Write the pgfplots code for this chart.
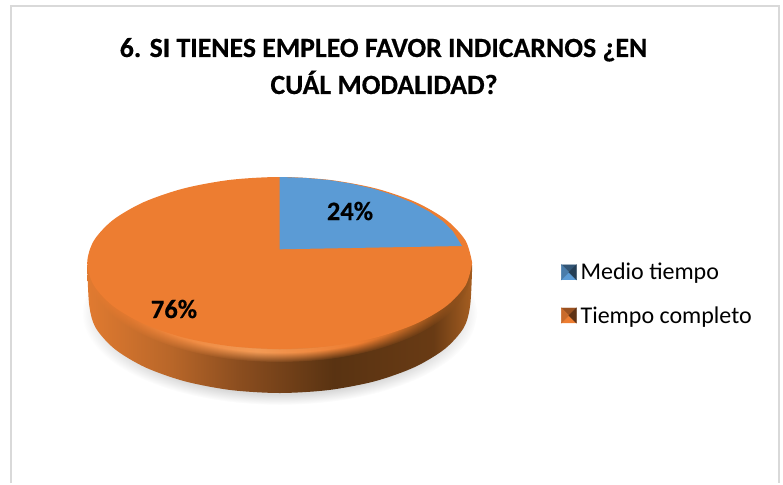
\documentclass[border=0pt]{standalone}
\usepackage{pgfplots}
\pgfplotsset{compat=1.18}
\usepackage{fontspec}
\setmainfont[BoldFeatures={FakeBold=0.4}]{Carlito}
\usetikzlibrary{fadings}
\definecolor{mblue}{HTML}{5B9BD5}
\definecolor{morange}{HTML}{ED7D31}
\definecolor{frameg}{HTML}{D9D9D9}
\definecolor{sa}{rgb}{0.88,0.48,0.19}
\definecolor{sb}{rgb}{0.72,0.40,0.16}
\definecolor{sc}{rgb}{0.54,0.30,0.12}
\definecolor{sd}{rgb}{0.35,0.20,0.07}
\definecolor{se}{rgb}{0.41,0.23,0.08}
\definecolor{sf}{rgb}{0.65,0.37,0.13}
\definecolor{rb}{HTML}{F29A55}
\definecolor{rc}{HTML}{B06020}
\definecolor{rd}{HTML}{7A4418}
\definecolor{shg}{rgb}{0.85,0.85,0.85}
\pgfdeclarehorizontalshading{sideorange}{100bp}{
 color(0bp)=(sa);
 color(25bp)=(sa);
 color(36bp)=(sb);
 color(45bp)=(sc);
 color(57bp)=(sd);
 color(70bp)=(se);
 color(75bp)=(sf);
 color(100bp)=(sf)}
\pgfdeclarehorizontalshading{ringorange}{100bp}{
 color(0bp)=(morange);
 color(30bp)=(morange);
 color(47bp)=(rb);
 color(60bp)=(morange);
 color(70bp)=(rc);
 color(75bp)=(rd);
 color(100bp)=(rd)}
\pgfdeclareradialshading{softshadow}{\pgfpointorigin}{
 color(0bp)=(shg);
 color(22bp)=(shg);
 color(25bp)=(white);
 color(50bp)=(white)}
\pgfdeclareradialshading{ringmask}{\pgfpointorigin}{
 color(0bp)=(black);
 color(19bp)=(black);
 color(21.5bp)=(white);
 color(22.3bp)=(white);
 color(25bp)=(black);
 color(50bp)=(black)}
\pgfdeclarefading{ringfade}{\pgfuseshading{ringmask}}
\begin{document}
\begin{tikzpicture}
\begin{axis}[
  scale only axis, width=783pt, height=483pt,
  xmin=0, xmax=783, ymin=0, ymax=483, y dir=reverse,
  axis lines=none, clip=false,
  legend style={at={(axis cs:561,263)},anchor=north west,draw=none,fill=none,
    font=\fontsize{24}{26}\selectfont, inner sep=0pt, row sep=25pt,
    nodes={inner sep=0pt, outer sep=0pt}},
  legend cell align=left,
]
% frame
\addplot[forget plot, draw=frameg, line width=2pt] coordinates {(11,483)(11,6)(779,6)(779,483)};
% shadow
\addplot[forget plot, draw=none, shade, shading=softshadow, smooth] coordinates {
(477.7,313)(471,289.2)(451.2,267)(419.7,247.9)(378.7,233.3)(330.9,224.1)(279.7,221)(228.5,224.1)(180.7,233.3)(139.7,247.9)(108.2,267)(88.4,289.2)(81.7,313)
(88.4,336.8)(108.2,359)(139.7,378.1)(180.7,392.7)(228.5,401.9)(279.7,405)(330.9,401.9)(378.7,392.7)(419.7,378.1)(451.2,359)(471,336.8)(477.7,313)};
% side wall
\addplot[forget plot, draw=none, shade, shading=sideorange, smooth] coordinates {
(87.2,265)(89.2,305)(95.7,327.8)(114.7,349)(145,367.2)(184.5,381.2)(230.4,390)(279.7,393)(329,390)(375,381.2)(414.4,367.2)(444.7,349)(463.7,327.8)(470.2,305)(472.2,265)};
% bevel highlight
\addplot[forget plot, draw=none, shade, shading=ringorange, path fading=ringfade, smooth] coordinates {
(472.2,270)(465.6,246.2)(446.4,224)(415.8,204.9)(376,190.3)(329.5,181.1)(279.7,178)(229.9,181.1)(183.5,190.3)(143.6,204.9)(113,224)(93.8,246.2)(87.2,270)
(93.8,293.8)(113,316)(143.6,335.1)(183.5,349.7)(229.9,359.1)(279.7,362)(329.5,359.1)(376,349.7)(415.8,335.1)(446.4,316)(465.6,293.8)(472.2,270)};
% Tiempo completo, 76 %
\addplot[forget plot, draw=none, fill=morange, smooth] coordinates {
(472.2,263)(465.6,240.7)(446.4,220)(415.8,202.2)(376,188.5)(329.5,179.9)(279.7,177)(229.9,179.9)(183.5,188.5)(143.6,202.2)(113,220)(93.8,240.7)(87.2,263)
(93.8,285.3)(113,306)(143.6,323.8)(183.5,337.5)(229.9,346.1)(279.7,349)(329.5,346.1)(376,337.5)(415.8,323.8)(446.4,306)(465.6,285.3)(472.2,263)};
% Medio tiempo, 24 %
\addplot[forget plot, draw=none, fill=mblue] coordinates {
(279.7,249.3)(279.7,177)(304,177.8)(328.4,180)(351,183.6)(373.7,188.8)(394,195.2)(412.6,202.8)(429,211.5)(442.5,221)(453,231.5)(462,246)(279.7,249.3)};
\addlegendimage{legend image code/.code={
  \fill[mblue] (0pt,-7.5pt) -- (15pt,-7.5pt) -- (7.5pt,0pt) -- cycle;
  \fill[mblue!55!black] (0pt,7.5pt) -- (15pt,7.5pt) -- (7.5pt,0pt) -- cycle;
  \fill[mblue!80!black] (0pt,-7.5pt) -- (0pt,7.5pt) -- (7.5pt,0pt) -- cycle;
  \fill[mblue!40!black] (15pt,-7.5pt) -- (15pt,7.5pt) -- (7.5pt,0pt) -- cycle;
  }}
\addlegendentry{\,Medio tiempo}
\addlegendimage{legend image code/.code={
  \fill[morange] (0pt,-7.5pt) -- (15pt,-7.5pt) -- (7.5pt,0pt) -- cycle;
  \fill[morange!65!black] (0pt,7.5pt) -- (15pt,7.5pt) -- (7.5pt,0pt) -- cycle;
  \fill[morange!85!black] (0pt,-7.5pt) -- (0pt,7.5pt) -- (7.5pt,0pt) -- cycle;
  \fill[morange!40!black] (15pt,-7.5pt) -- (15pt,7.5pt) -- (7.5pt,0pt) -- cycle;
  }}
\addlegendentry{\,Tiempo completo}
\node[anchor=base, font=\fontsize{27.8}{30}\selectfont\bfseries] at (axis cs:383.5,57) {6. SI TIENES EMPLEO FAVOR INDICARNOS ¿EN};
\node[anchor=base, font=\fontsize{27.8}{30}\selectfont\bfseries] at (axis cs:384,94) {CUÁL MODALIDAD?};
\node[font=\fontsize{26.5}{30}\selectfont\bfseries] at (axis cs:350,211) {24\%};
\node[font=\fontsize{26.5}{30}\selectfont\bfseries] at (axis cs:174,309) {76\%};
\end{axis}
\useasboundingbox (0,0) rectangle (783pt,483pt);
\end{tikzpicture}
\end{document}
